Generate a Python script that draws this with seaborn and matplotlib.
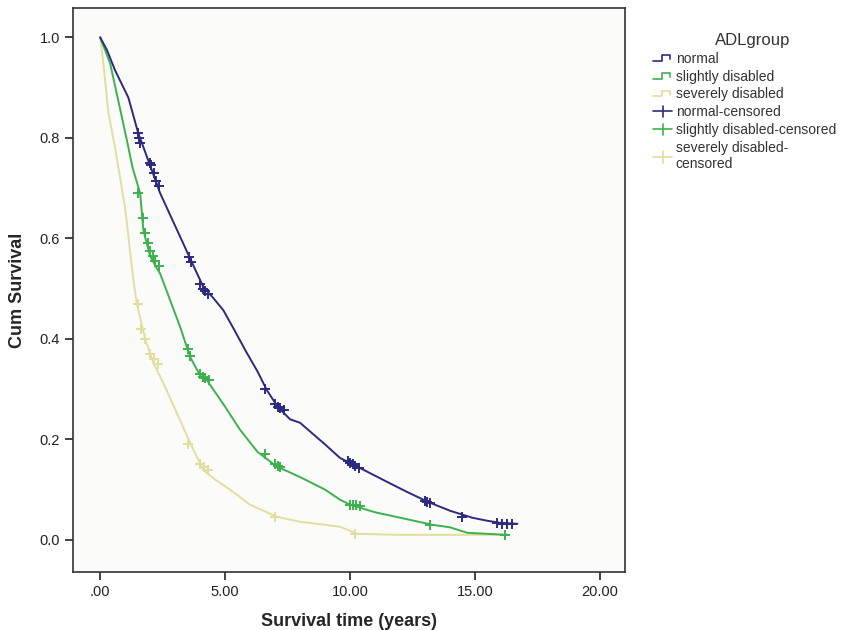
import numpy as np
import pandas as pd
import matplotlib
matplotlib.use("Agg")
import matplotlib.pyplot as plt
import seaborn as sns
from matplotlib.legend_handler import HandlerBase
from matplotlib.lines import Line2D

# ---- data ----
groups = ["normal", "slightly disabled", "severely disabled"]

normal_t = [0.0, 0.27, 0.6, 1.13, 1.52, 2.0, 2.4, 3.0, 3.6, 4.13, 4.5, 4.93, 5.4, 5.87, 6.3, 6.67, 7.1, 7.6, 8.0, 9.0, 9.6, 10.0, 10.4, 11.5, 12.3, 13.1, 14.0, 14.9, 15.5, 16.0, 16.7]
normal_s = [1.0, 0.975, 0.934, 0.88, 0.81, 0.745, 0.69, 0.625, 0.56, 0.503, 0.483, 0.457, 0.415, 0.372, 0.335, 0.298, 0.265, 0.24, 0.233, 0.19, 0.163, 0.153, 0.143, 0.115, 0.095, 0.076, 0.058, 0.044, 0.038, 0.034, 0.032]

slight_t = [0.0, 0.4, 0.7, 1.07, 1.3, 1.6, 1.73, 2.0, 2.27, 2.4, 3.2, 3.6, 4.0, 4.27, 5.0, 5.6, 6.3, 7.07, 8.0, 9.0, 9.6, 10.0, 11.0, 12.2, 13.3, 14.0, 14.7, 15.5, 16.3]
slight_s = [1.0, 0.948, 0.88, 0.795, 0.74, 0.69, 0.616, 0.565, 0.54, 0.53, 0.424, 0.364, 0.327, 0.318, 0.265, 0.219, 0.175, 0.146, 0.125, 0.10, 0.08, 0.07, 0.055, 0.042, 0.030, 0.025, 0.014, 0.012, 0.01]

severe_t = [0.0, 0.13, 0.33, 0.6, 1.0, 1.33, 1.47, 1.8, 2.13, 2.53, 3.0, 3.6, 4.13, 4.6, 5.2, 6.0, 7.07, 8.0, 9.0, 9.6, 10.3, 12.0, 14.0, 16.3]
severe_s = [1.0, 0.948, 0.85, 0.78, 0.66, 0.517, 0.47, 0.40, 0.352, 0.312, 0.26, 0.193, 0.139, 0.12, 0.10, 0.07, 0.046, 0.036, 0.03, 0.026, 0.012, 0.01, 0.01, 0.01]

# censored observations
normal_ct = [1.5, 1.55, 1.6, 2.0, 2.05, 2.15, 2.25, 2.35, 3.55, 3.65, 4.0, 4.1, 4.2, 4.3, 6.6, 7.0, 7.1, 7.2, 7.35, 9.9, 10.0, 10.1, 10.2, 10.35, 13.0, 13.1, 13.2, 14.5, 15.9, 16.1, 16.3, 16.5]
normal_cs = [0.81, 0.80, 0.79, 0.75, 0.745, 0.73, 0.715, 0.705, 0.562, 0.552, 0.51, 0.50, 0.495, 0.49, 0.30, 0.27, 0.265, 0.262, 0.258, 0.156, 0.153, 0.15, 0.147, 0.143, 0.077, 0.075, 0.073, 0.045, 0.033, 0.032, 0.032, 0.031]

slight_ct = [1.5, 1.7, 1.8, 1.9, 2.0, 2.1, 2.2, 2.35, 3.5, 3.6, 4.0, 4.1, 4.2, 4.35, 6.6, 7.0, 7.1, 7.2, 10.0, 10.1, 10.25, 10.4, 13.2, 16.2]
slight_cs = [0.69, 0.64, 0.61, 0.59, 0.575, 0.565, 0.555, 0.545, 0.38, 0.365, 0.33, 0.325, 0.322, 0.318, 0.17, 0.15, 0.148, 0.146, 0.07, 0.07, 0.069, 0.068, 0.03, 0.01]

severe_ct = [1.5, 1.65, 1.8, 2.0, 2.15, 2.3, 3.5, 4.0, 4.15, 4.3, 7.0, 10.2]
severe_cs = [0.47, 0.42, 0.40, 0.37, 0.36, 0.35, 0.19, 0.15, 0.145, 0.14, 0.046, 0.012]

colors = {"normal": "#2b2a80", "slightly disabled": "#3cb24e", "severely disabled": "#e2dea0"}

curves = pd.concat([
    pd.DataFrame({"t": normal_t, "s": normal_s, "group": "normal"}),
    pd.DataFrame({"t": slight_t, "s": slight_s, "group": "slightly disabled"}),
    pd.DataFrame({"t": severe_t, "s": severe_s, "group": "severely disabled"}),
], ignore_index=True)
cens = pd.concat([
    pd.DataFrame({"t": normal_ct, "s": normal_cs, "group": "normal"}),
    pd.DataFrame({"t": slight_ct, "s": slight_cs, "group": "slightly disabled"}),
    pd.DataFrame({"t": severe_ct, "s": severe_cs, "group": "severely disabled"}),
], ignore_index=True)

sns.set_style("white")
plt.rcParams["font.family"] = ["Liberation Sans", "DejaVu Sans"]

fig = plt.figure(figsize=(8.41, 6.3), dpi=100)
ax = fig.add_axes([0.087, 0.092, 0.656, 0.895])
ax.set_facecolor("#fbfbf9")

for g in ["severely disabled", "slightly disabled", "normal"]:
    sub = curves[curves.group == g]
    sns.lineplot(data=sub, x="t", y="s", ax=ax, color=colors[g], linewidth=1.4,
                 estimator=None, sort=False, legend=False)
    csub = cens[cens.group == g]
    sns.scatterplot(data=csub, x="t", y="s", ax=ax, color=colors[g], marker="+",
                    s=60, linewidth=1.4, legend=False, zorder=3)

ax.set_xlim(-1.08, 21.0)
ax.set_ylim(-0.064, 1.058)
ax.set_xticks([0, 5, 10, 15, 20])
ax.set_xticklabels([".00", "5.00", "10.00", "15.00", "20.00"])
ax.set_yticks([0, 0.2, 0.4, 0.6, 0.8, 1.0])
ax.set_yticklabels(["0.0", "0.2", "0.4", "0.6", "0.8", "1.0"])
ax.tick_params(axis="both", direction="out", length=6, width=1.2, color="#222222",
               labelsize=10.5, labelcolor="#222222", bottom=True, left=True)
for sp in ax.spines.values():
    sp.set_color("#333333")
    sp.set_linewidth(1.2)
ax.set_xlabel("Survival time (years)", fontsize=13, fontweight="bold", labelpad=10)
ax.set_ylabel("Cum Survival", fontsize=13, fontweight="bold", labelpad=10)


class StepHandler(HandlerBase):
    def create_artists(self, legend, orig_handle, xd, yd, width, height, fontsize, trans):
        x = [xd, xd + width * 0.45, xd + width * 0.45, xd + width * 0.9, xd + width * 0.9]
        y = [yd + height * 0.2, yd + height * 0.2, yd + height * 0.8, yd + height * 0.8, yd + height * 0.4]
        l = Line2D(x, y, color=orig_handle.get_color(), linewidth=1.2, transform=trans)
        return [l]


class PlusHandler(HandlerBase):
    def create_artists(self, legend, orig_handle, xd, yd, width, height, fontsize, trans):
        c = orig_handle.get_color()
        h = Line2D([xd, xd + width], [yd + height / 2, yd + height / 2], color=c, linewidth=1.2, transform=trans)
        v = Line2D([xd + width / 2, xd + width / 2], [yd - height * 0.1, yd + height * 1.1], color=c, linewidth=1.2, transform=trans)
        return [h, v]


step_handles = [Line2D([], [], color=colors[g]) for g in groups]
plus_handles = [Line2D([], [], color=colors[g], marker="+") for g in groups]
handler_map = {h: StepHandler() for h in step_handles}
handler_map.update({h: PlusHandler() for h in plus_handles})
labels = ["normal", "slightly disabled", "severely disabled", "normal-censored",
          "slightly disabled-censored", "severely disabled-\ncensored"]
leg = fig.legend(step_handles + plus_handles, labels, handler_map=handler_map,
                 loc="upper left", bbox_to_anchor=(0.768, 0.959), frameon=False,
                 title="ADLgroup", fontsize=10, title_fontsize=12,
                 handlelength=1.4, handletextpad=0.25, labelspacing=0.28,
                 borderpad=0.0)
leg._legend_box.align = "left"
leg.get_title().set_position((62, 0))
for t in leg.get_texts():
    t.set_color("#333333")
leg.get_title().set_color("#333333")

fig.savefig("out.png", dpi=100, facecolor="white")
